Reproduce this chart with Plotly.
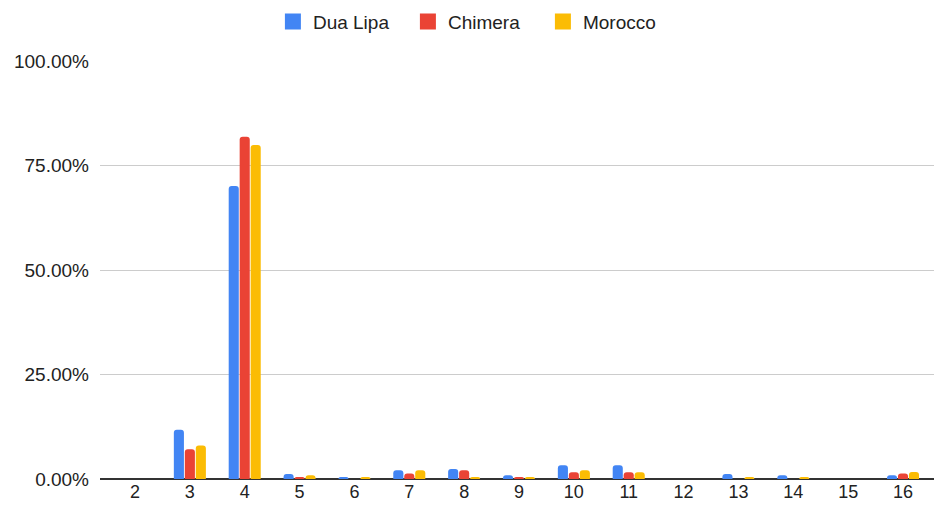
import plotly.graph_objects as go

# Share of tracks per category for each album
categories = [2, 3, 4, 5, 6, 7, 8, 9, 10, 11, 12, 13, 14, 15, 16]
dua_lipa = [0.0, 11.8, 70.1, 1.2, 0.5, 2.1, 2.4, 0.9, 3.3, 3.3, 0.0, 1.2, 0.9, 0.0, 0.9]
chimera = [0.0, 7.1, 81.9, 0.5, 0.0, 1.3, 2.1, 0.5, 1.6, 1.6, 0.0, 0.0, 0.0, 0.0, 1.3]
morocco = [0.0, 8.0, 79.9, 0.9, 0.5, 2.1, 0.5, 0.5, 2.1, 1.6, 0.0, 0.5, 0.5, 0.0, 1.7]

series = [
    ("Dua Lipa", dua_lipa, "#4285F4"),
    ("Chimera", chimera, "#EA4335"),
    ("Morocco", morocco, "#FBBC04"),
]

font_family = "Liberation Sans, Arial, sans-serif"
text_color = "#222222"
fig = go.Figure()

for name, values, color in series:
    fig.add_trace(go.Bar(
        x=categories,
        y=[v / 100 for v in values],
        name=name,
        marker=dict(color=color, cornerradius=3, line=dict(width=0)),
        showlegend=False,
    ))

# Legend entries with larger square swatches
for name, values, color in series:
    fig.add_trace(go.Scatter(
        x=[None], y=[None], mode="markers", name=name,
        marker=dict(symbol="square", size=19, color=color),
        showlegend=True,
    ))

fig.update_layout(
    width=934,
    height=507,
    margin=dict(l=100, r=0, t=61, b=28),
    paper_bgcolor="white",
    plot_bgcolor="white",
    barmode="group",
    bargap=0.4,
    bargroupgap=0.08,
    font=dict(family=font_family, size=19, color=text_color),
    legend=dict(
        orientation="h",
        x=0.509, xanchor="center", xref="container",
        y=0.995, yanchor="top", yref="container",
        font=dict(size=19, color=text_color),
        itemsizing="trace",
        entrywidth=90,
        entrywidthmode="pixels",
    ),
    xaxis=dict(
        type="linear",
        range=[1.362, 16.565],
        tickvals=categories,
        ticktext=[str(c) for c in categories],
        showgrid=False,
        zeroline=False,
        showline=False,
        ticks="",
        tickfont=dict(size=18, color=text_color),
    ),
    yaxis=dict(
        range=[0, 1],
        tickvals=[0, 0.25, 0.5, 0.75, 1.0],
        tickformat=".2%",
        showgrid=True,
        gridcolor="#cccccc",
        gridwidth=1,
        zeroline=True,
        zerolinecolor="#333333",
        zerolinewidth=1.5,
        ticks="",
        ticklabelstandoff=10,
        tickfont=dict(size=19, color=text_color),
    ),
)

fig.write_html("out.html")
